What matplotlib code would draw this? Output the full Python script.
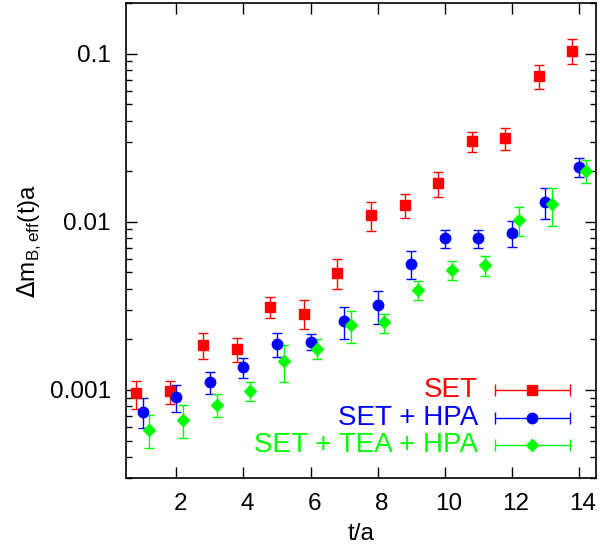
import numpy as np
import matplotlib
matplotlib.use("Agg")
import matplotlib.pyplot as plt
from matplotlib.transforms import ScaledTranslation

plt.rcParams['font.family'] = ['Liberation Sans', 'DejaVu Sans']

t = np.arange(1, 15)

# SET
set_val = [0.00096, 0.00098, 0.00186, 0.00174, 0.00313, 0.00284, 0.00497,
           0.0110, 0.01256, 0.0169, 0.0301, 0.0313, 0.0736, 0.1038]
set_hi = [0.00113, 0.00113, 0.00219, 0.00203, 0.00356, 0.00342, 0.0060,
          0.0131, 0.01465, 0.0197, 0.0342, 0.0361, 0.0857, 0.1216]
set_lo = [0.00077, 0.00082, 0.00153, 0.00146, 0.00266, 0.00229, 0.0040,
          0.00885, 0.0106, 0.01406, 0.0261, 0.0267, 0.0618, 0.0873]

# SET + HPA
hpa_val = [0.000744, 0.000906, 0.00112, 0.00136, 0.00187, 0.00194, 0.00258,
           0.00318, 0.00559, 0.00801, 0.00801, 0.00861, 0.0132, 0.0212]
hpa_hi = [0.000893, 0.00107, 0.00128, 0.00154, 0.00219, 0.00215, 0.00313,
          0.00389, 0.00667, 0.00897, 0.00897, 0.01014, 0.01596, 0.0241]
hpa_lo = [0.000593, 0.000744, 0.00095, 0.00118, 0.00157, 0.00173, 0.00202,
          0.00246, 0.00458, 0.00702, 0.00702, 0.00708, 0.01032, 0.01837]

# SET + TEA + HPA
tea_val = [0.00058, 0.000664, 0.000815, 0.00098, 0.00148, 0.00176, 0.00243,
           0.00252, 0.00394, 0.0052, 0.00551, 0.01028, 0.0128, 0.0201]
tea_hi = [0.000711, 0.000815, 0.000943, 0.00111, 0.00184, 0.00200, 0.00296,
          0.00284, 0.00446, 0.00585, 0.00627, 0.01232, 0.01596, 0.0234]
tea_lo = [0.00045, 0.000518, 0.000686, 0.000857, 0.00111, 0.00153, 0.0019,
          0.00219, 0.00344, 0.00452, 0.00475, 0.00826, 0.00943, 0.01694]

series = [
    ("SET", -0.2, set_val, set_lo, set_hi, "#ff0000", "s", 6.5),
    ("SET + HPA", 0.0, hpa_val, hpa_lo, hpa_hi, "#0000ff", "o", 7.5),
    ("SET + TEA + HPA", 0.2, tea_val, tea_lo, tea_hi, "#00ff00", "D", 6),
]

fig = plt.figure(figsize=(6, 5.48), dpi=100)
ax = fig.add_axes([0.21, 0.128, 0.783, 0.8665])

for name, dx, v, lo, hi, c, m, ms in series:
    v = np.array(v)
    err = [v - np.array(lo), np.array(hi) - v]
    ax.errorbar(t + dx, v, yerr=err, fmt=m, color=c, ms=ms, mec=c,
                elinewidth=1, capsize=3.5, capthick=1)

ax.set_yscale('log')
ax.set_xlim(0.5, 14.5)
ax.set_ylim(0.0003, 0.2)
ax.set_xticks([2, 4, 6, 8, 10, 12, 14])
ax.set_yticks([0.001, 0.01, 0.1])
ax.set_yticklabels(["0.001", "0.01", "0.1"])
ax.tick_params(which='both', direction='in', top=True, right=True, labelsize=17.5)
ax.tick_params(which='major', length=8, width=1)
ax.tick_params(which='minor', length=4, width=1)
ax.tick_params(axis='x', pad=11)
ax.tick_params(axis='y', pad=11)
for s in ax.spines.values():
    s.set_linewidth(1.2)

# gnuplot puts x tick labels slightly right of the ticks
shift = ScaledTranslation(4 / 100, 0, fig.dpi_scale_trans)
for lab in ax.get_xticklabels():
    lab.set_transform(lab.get_transform() + shift)

ax.set_xlabel("t/a", fontsize=17.5, labelpad=6)
ax.set_ylabel(r"$\Delta \mathregular{m}_{\mathregular{B,eff}}\mathregular{(t)a}$", fontsize=17.5, labelpad=4)

# legend drawn gnuplot-style
rows = [0.184, 0.127, 0.069]
for (name, dx, v, lo, hi, c, m, ms), yy in zip(series, rows):
    ax.text(0.749, yy, name, color=c, fontsize=20, ha='right', va='center',
            transform=ax.transAxes)
    ax.errorbar([0.864], [yy], xerr=[[0.079], [0.081]], fmt=m, color=c, ms=ms,
                mec=c, elinewidth=1, capsize=4, capthick=1,
                transform=ax.transAxes)

fig.savefig("out.png", dpi=100)
